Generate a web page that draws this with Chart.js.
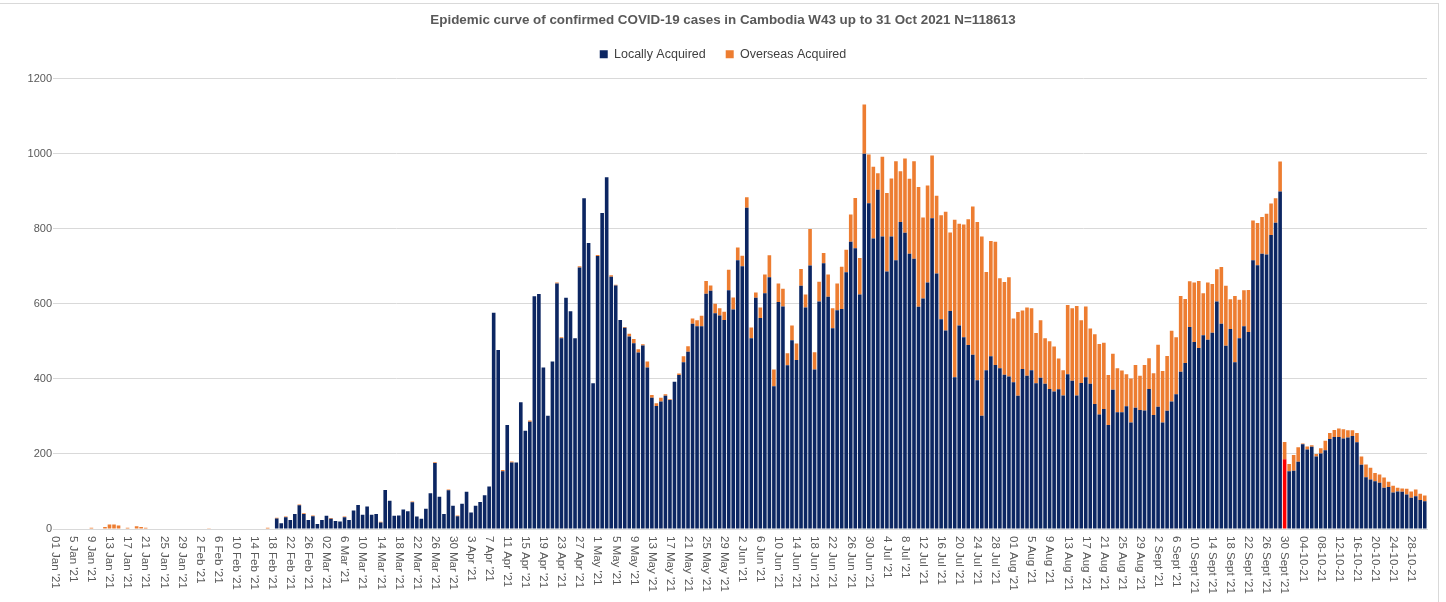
<!DOCTYPE html>
<html>
<head>
<meta charset="utf-8">
<script src="https://cdn.jsdelivr.net/npm/chart.js@4.4.0/dist/chart.umd.min.js"></script>
<style>
  html, body { margin: 0; padding: 0; background: #fff; overflow: hidden; }
  #frame { position: absolute; left: -1px; top: 3px; width: 1438px; height: 640px; border: 1px solid #d9d9d9; }
  #chart { position: absolute; left: 0; top: 0; }
</style>
</head>
<body>
<div id="frame"></div>
<canvas id="chart" width="1446" height="602"></canvas>
<script>
// daily cases, 1 Jan 2021 .. 31 Oct 2021
const locallyAcquired = [
  // Jan
  0,0,0,0,0,0,0,0,0,0, 0,0,0,0,0,0,0,0,0,0, 0,0,0,0,0,0,0,0,0,0, 0,
  // Feb
  0,0,0,0,0,0,0,0,0,0, 0,0,0,0,0,0,0,0,28,15, 31,24,40,63,40,24,34,13,
  // Mar
  24,35,27,21,20,31,24,49,64,38, 60,38,40,17,104,75,35,36,52,47, 71,33,27,54,95,176,86,40,103,62, 34,
  // Apr
  67,99,44,62,72,90,113,576,477,154, 277,177,177,338,262,286,620,626,430,302, 446,654,508,616,580,508,697,881,762,388,
  // May
  727,842,937,672,649,557,536,513,495,470, 489,430,350,328,340,355,344,392,410,444, 472,547,540,540,627,635,575,569,557,636, 585,
  // Jun
  716,700,856,508,616,562,628,671,380,605, 593,436,503,450,648,590,702,425,606,708, 619,535,583,586,684,765,748,625,1000,868,
  // Jul
  774,904,779,686,779,716,818,789,733,720, 592,614,657,828,681,559,529,581,404,542, 511,490,464,396,302,423,460,437,428,411, 406,
  // Aug
  391,355,426,408,423,388,403,387,373,366, 372,356,412,395,356,389,404,387,333,305, 320,277,371,311,311,327,284,323,317,316, 373,
  // Sep
  304,326,284,315,340,359,419,442,538,498, 482,516,504,523,606,547,488,533,444,508, 540,525,716,703,733,731,783,816,899,186,
  // Oct
  154,155,179,226,212,219,193,201,210,240, 245,245,241,244,248,231,171,138,132,127, 123,110,112,97,100,99,92,83,87,77, 74
];

const overseasAcquired = [
  // Jan
  0,0,0,0,0,0,0,0,3,0, 0,5,12,12,9,0,3,0,7,5, 3,0,0,0,0,0,0,0,0,0, 0,
  // Feb
  0,0,0,2,0,0,0,0,0,0, 0,0,0,0,0,0,3,0,2,0, 2,0,0,2,2,0,2,0,
  // Mar
  0,0,2,0,0,2,0,0,0,0, 0,0,0,2,0,0,0,0,0,0, 2,0,0,0,0,2,0,0,2,0, 2,
  // Apr
  0,0,0,0,0,0,0,0,0,3, 0,3,0,0,0,3,0,0,0,0, 0,3,3,0,0,0,3,0,0,0,
  // May
  3,0,0,4,2,0,2,7,11,9, 3,16,7,7,10,4,2,0,4,16, 15,14,16,28,34,14,25,19,22,55, 32,
  // Jun
  34,28,28,29,14,28,50,58,45,49, 47,32,39,44,45,35,97,46,53,27, 59,53,71,113,60,73,134,97,131,130,
  // Jul
  191,44,213,209,155,264,135,198,200,260, 319,216,258,167,207,277,316,209,420,271, 300,335,395,422,477,262,307,328,240,247, 265,
  // Aug
  170,223,156,182,165,134,153,121,127,120, 82,67,185,193,238,167,189,147,186,188, 176,133,96,117,111,85,117,114,91,121, 82,
  // Sep
  111,165,137,146,188,152,202,171,122,159, 179,112,153,130,86,151,160,79,177,103, 96,112,106,112,98,109,84,65,80,46,
  // Oct
  19,42,39,2,8,4,7,14,25,16, 19,23,25,19,15,25,22,34,31,22, 22,27,14,18,10,9,15,17,18,17, 15
];

// every 4th day gets a label
const tickLabels = [
  "01 Jan '21","5 Jan '21","9 Jan '21","13 Jan '21","17 Jan '21","21 Jan '21","25 Jan '21","29 Jan '21",
  "2 Feb '21","6 Feb '21","10 Feb '21","14 Feb '21","18 Feb '21","22 Feb '21","26 Feb '21",
  "02 Mar '21","6 Mar '21","10 Mar '21","14 Mar '21","18 Mar '21","22 Mar '21","26 Mar '21","30 Mar '21",
  "3 Apr '21","7 Apr '21","11 Apr '21","15 Apr '21","19 Apr '21","23 Apr '21","27 Apr '21",
  "1 May '21","5 May '21","9 May '21","13 May '21","17 May '21","21 May '21","25 May '21","29 May '21",
  "2 Jun '21","6 Jun '21","10 Jun '21","14 Jun '21","18 Jun '21","22 Jun '21","26 Jun '21","30 Jun '21",
  "4 Jul '21","8 Jul '21","12 Jul '21","16 Jul '21","20 Jul '21","24 Jul '21","28 Jul '21",
  "01 Aug '21","5 Aug '21","9 Aug '21","13 Aug '21","17 Aug '21","21 Aug '21","25 Aug '21","29 Aug '21",
  "2 Sept '21","6 Sept '21","10 Sept '21","14 Sept '21","18 Sept '21","22 Sept '21","26 Sept '21","30 Sept '21",
  "04-10-21","08-10-21","12-10-21","16-10-21","20-10-21","24-10-21","28-10-21"
];

const days = [];
for (let d = new Date(2021, 0, 1); d <= new Date(2021, 9, 31); d.setDate(d.getDate() + 1)) {
  days.push(d.toDateString());
}

const redDay = days.indexOf(new Date(2021, 8, 30).toDateString()); // 30 Sept drawn in red
const navy = '#0c2662';
const orange = '#ed7d31';
const grey = '#595959';
const font = "'Liberation Sans', Arial, sans-serif";

// push the plot area down a bit below the legend
const legendGap = {
  id: 'legendGap',
  beforeInit(chart) {
    const fit = chart.legend.fit;
    chart.legend.fit = function () {
      fit.bind(chart.legend)();
      this.height += 8;
    };
  }
};

// x labels rotated clockwise, like the excel chart
const xLabels = {
  id: 'xLabels',
  afterDraw(chart) {
    const xs = chart.scales.x;
    const ctx = chart.ctx;
    ctx.save();
    ctx.font = '11.5px ' + font;
    ctx.fillStyle = grey;
    ctx.textAlign = 'left';
    ctx.textBaseline = 'middle';
    for (let i = 0; i < days.length; i += 4) {
      ctx.save();
      ctx.translate(xs.getPixelForValue(i), xs.top + 7);
      ctx.rotate(Math.PI / 2);
      ctx.fillText(tickLabels[i / 4], 0, 0);
      ctx.restore();
    }
    ctx.restore();
  }
};

new Chart(document.getElementById('chart'), {
  type: 'bar',
  data: {
    labels: days,
    datasets: [
      {
        label: 'Locally Acquired',
        data: locallyAcquired,
        backgroundColor: c => c.dataIndex === redDay ? '#ff0000' : navy,
        barPercentage: 0.8,
        categoryPercentage: 1
      },
      {
        label: 'Overseas Acquired',
        data: overseasAcquired,
        backgroundColor: orange,
        barPercentage: 0.8,
        categoryPercentage: 1
      }
    ]
  },
  options: {
    responsive: false,
    animation: false,
    layout: { padding: { left: 19, right: 19, top: 0, bottom: 0 } },
    plugins: {
      title: {
        display: true,
        text: 'Epidemic curve of confirmed COVID-19 cases in Cambodia W43 up to 31 Oct 2021 N=118613',
        color: grey,
        font: { family: font, size: 13.4, weight: 'bold' },
        padding: { top: 12, bottom: 0 }
      },
      legend: {
        labels: {
          boxWidth: 8,
          boxHeight: 8,
          color: '#404040',
          font: { family: font, size: 12.5 },
          padding: 20
        }
      },
      tooltip: { enabled: false }
    },
    scales: {
      x: {
        stacked: true,
        grid: { display: false },
        border: { color: '#d9d9d9' },
        ticks: { display: false },
        afterFit: s => { s.height = 73; }
      },
      y: {
        stacked: true,
        min: 0,
        max: 1200,
        ticks: {
          stepSize: 200,
          color: grey,
          font: { family: font, size: 11 },
          padding: 1,
          callback: v => String(v)
        },
        grid: { color: '#d9d9d9', drawTicks: false },
        border: { display: false },
        afterFit: s => { s.width = 34; }
      }
    }
  },
  plugins: [legendGap, xLabels]
});
</script>
</body>
</html>
